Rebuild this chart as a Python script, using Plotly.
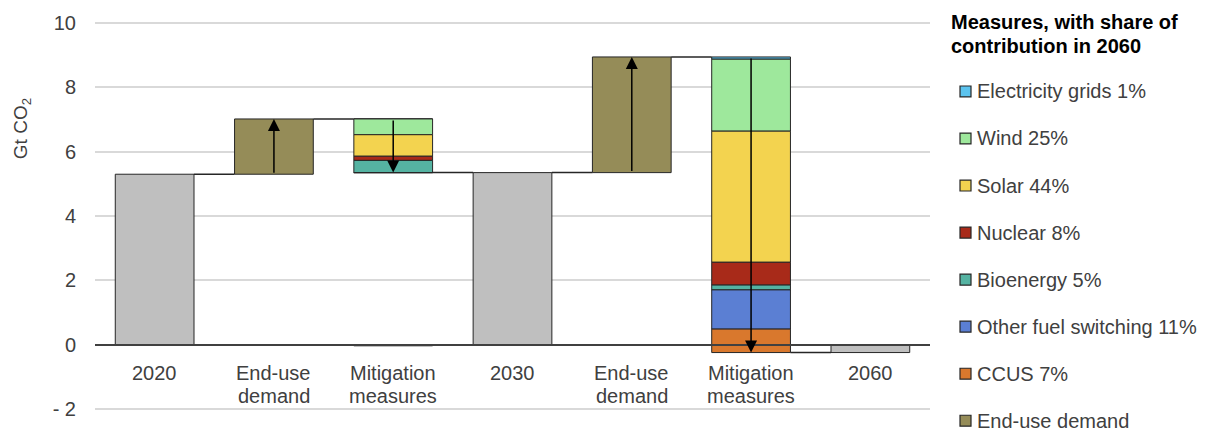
import plotly.graph_objects as go

# Category labels along the horizontal axis (lines split by <br>)
categories = ["2020", "End-use<br>demand", "Mitigation<br>measures", "2030",
              "End-use<br>demand", "Mitigation<br>measures", "2060"]

# Emission levels (Gt CO2) in the milestone years
total_years = ["2020", "2030", "2060"]
total_values = [5.30, 5.35, -0.25]

# Growth from end-use demand in each period (2020-2030, 2030-2060)
end_use_growth = [1.72, 3.60]

# Reductions by mitigation measure in each period (2020-2030, 2030-2060), top of stack first
measure_names = ["Electricity grids 1%", "Wind 25%", "Solar 44%", "Nuclear 8%",
                 "Bioenergy 5%", "Other fuel switching 11%", "CCUS 7%"]
electricity_grids = [0.00, 0.07]
wind = [0.49, 2.24]
solar = [0.67, 4.08]
nuclear = [0.13, 0.71]
bioenergy = [0.38, 0.15]
other_fuel_switching = [0.00, 1.22]
ccus = [0.00, 0.73]
ccus_below_axis = [0.04, 0.00]

measure_values = [electricity_grids, wind, solar, nuclear, bioenergy, other_fuel_switching, ccus]
measure_colors = ["#5bc3ee", "#9ee89c", "#f3d34f", "#a82a19", "#55b3a2", "#5b7fd3", "#d9782d"]
end_use_name = "End-use demand"
end_use_color = "#958c58"
total_color = "#bfbfbf"
outline = "#262626"

legend_title_lines = ["Measures, with share of", "contribution in 2060"]

# Y axis ticks
y_tickvals = [-2, 0, 2, 4, 6, 8, 10]
y_ticktext = ["- 2", "0", "2", "4", "6", "8", "10"]
y_range = [-2.1, 10.1]

# Positions on the numeric axis
x_pos = list(range(len(categories)))
total_x = [0, 3, 6]
end_use_x = [1, 4]
mitig_x = [2, 5]
bar_w = 0.66

# Layout geometry in pixels
W, H = 1211, 432
ML, MR, MT, MB = 95, 281, 18, 19
PW, PH = W - ML - MR, H - MT - MB


def px_x(px):
    return (px - ML) / PW


def px_y(py):
    return (H - MB - py) / PH


font_family = "Liberation Sans, Arial, sans-serif"
text_color = "#404040"
fs = 20

fig = go.Figure()

# Start level and top of each period's stack
starts = [total_values[0], total_values[1]]
tops = [s + g for s, g in zip(starts, end_use_growth)]

# Mitigation stacks, drawn downward from the top of the end-use step
cum = [0.0, 0.0]
for name, vals, col in zip(measure_names, measure_values, measure_colors):
    bases = [tops[i] - cum[i] - vals[i] for i in range(2)]
    cum = [cum[i] + vals[i] for i in range(2)]
    fig.add_trace(go.Bar(
        x=mitig_x, y=vals, base=bases, name=name, width=bar_w,
        marker=dict(color=col, line=dict(color=outline, width=1)),
        showlegend=False,
    ))

# Small CCUS sliver under the axis
fig.add_trace(go.Bar(
    x=mitig_x, y=[-v for v in ccus_below_axis], base=[0, 0], width=bar_w,
    marker=dict(color=measure_colors[-1], line=dict(color=outline, width=1)),
    showlegend=False, hoverinfo="skip",
))

# End-use demand steps
fig.add_trace(go.Bar(
    x=end_use_x, y=end_use_growth, base=starts, name=end_use_name, width=bar_w,
    marker=dict(color=end_use_color, line=dict(color=outline, width=1)),
    showlegend=False,
))

# Totals in milestone years
fig.add_trace(go.Bar(
    x=total_x, y=total_values, width=bar_w, name="Total",
    marker=dict(color=total_color, line=dict(color=outline, width=1)),
    showlegend=False,
))

# Connector lines between consecutive bars
levels = [total_values[0], tops[0], total_values[1], total_values[1], tops[1], total_values[2]]
shapes = []
for i, lvl in enumerate(levels):
    shapes.append(dict(type="line", xref="x", yref="y",
                       x0=i + bar_w / 2, x1=i + 1 - bar_w / 2, y0=lvl, y1=lvl,
                       line=dict(color="#262626", width=1.5)))

annotations = []

# Direction arrows through the step bars
for k in range(2):
    annotations.append(dict(x=end_use_x[k], y=tops[k], ax=end_use_x[k], ay=starts[k],
                            xref="x", yref="y", axref="x", ayref="y", text="",
                            showarrow=True, arrowhead=2, arrowsize=1.6, arrowwidth=1.5,
                            arrowcolor="black"))
    annotations.append(dict(x=mitig_x[k], y=total_values[k + 1], ax=mitig_x[k], ay=tops[k],
                            xref="x", yref="y", axref="x", ayref="y", text="",
                            showarrow=True, arrowhead=2, arrowsize=1.6, arrowwidth=1.5,
                            arrowcolor="black"))

# Category labels under the zero line, one annotation per text line
for xp, label in zip(x_pos, categories):
    for j, line in enumerate(label.split("<br>")):
        annotations.append(dict(x=xp, y=0, xref="x", yref="y", text=line, showarrow=False,
                                xanchor="center", yanchor="middle", yshift=-28 - 23 * j,
                                font=dict(size=fs, color=text_color)))

# Y axis title near the top of the axis
annotations.append(dict(x=px_x(22), y=px_y(128), xref="paper", yref="paper",
                        text="Gt CO<sub>2</sub>", textangle=-90, showarrow=False,
                        xanchor="center", yanchor="middle",
                        font=dict(size=19, color=text_color)))

# Legend: title and one swatch per series
for j, line in enumerate(legend_title_lines):
    annotations.append(dict(x=px_x(949), y=px_y(20 + 24 * j), xref="paper", yref="paper",
                            text=f"<b>{line}</b>", showarrow=False, xanchor="left",
                            yanchor="middle", font=dict(size=fs, color="black")))

legend_names = measure_names + [end_use_name]
legend_colors = measure_colors + [end_use_color]
for j, (name, col) in enumerate(zip(legend_names, legend_colors)):
    cy = 90 + 47.4 * j
    shapes.append(dict(type="rect", xref="paper", yref="paper",
                       x0=px_x(960), x1=px_x(971), y0=px_y(cy + 5.5), y1=px_y(cy - 5.5),
                       fillcolor=col, line=dict(color=outline, width=1.2)))
    annotations.append(dict(x=px_x(975), y=px_y(cy), xref="paper", yref="paper",
                            text=name, showarrow=False, xanchor="left", yanchor="middle",
                            font=dict(size=fs, color=text_color)))

fig.update_layout(
    width=W, height=H,
    margin=dict(l=ML, r=MR, t=MT, b=MB),
    paper_bgcolor="white", plot_bgcolor="white",
    barmode="overlay", showlegend=False,
    font=dict(family=font_family, size=fs, color=text_color),
    shapes=shapes, annotations=annotations,
    xaxis=dict(
        range=[-0.5, 6.5], tickmode="array", tickvals=x_pos, showticklabels=False,
        anchor="free", position=(0 - y_range[0]) / (y_range[1] - y_range[0]),
        showline=True, linecolor="#404040",
        linewidth=1.5, showgrid=False, ticks="", zeroline=False,
    ),
    yaxis=dict(
        range=y_range, tickmode="array", tickvals=y_tickvals, ticktext=y_ticktext,
        showgrid=True, gridcolor="#d9d9d9", gridwidth=1.5, zeroline=False,
        ticks="", ticklabelstandoff=18,
        tickfont=dict(size=fs, color=text_color),
    ),
)

fig.write_html("out.html")
